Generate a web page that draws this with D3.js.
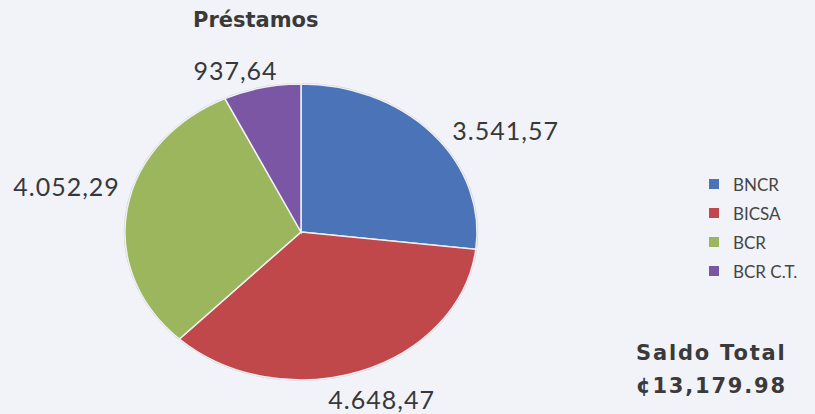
<!DOCTYPE html>
<html><head><meta charset="utf-8">
<script src="https://cdn.jsdelivr.net/npm/d3@7"></script>
<style>
html,body{margin:0;padding:0;background:#f1f3f8;}
svg{display:block;}
</style></head>
<body>
<svg id="chart" width="815" height="414"></svg>
<script>
const categories = ["BNCR", "BICSA", "BCR", "BCR C.T."];
const values = [3541.57, 4648.47, 4052.29, 937.64];
const valueLabels = ["3.541,57", "4.648,47", "4.052,29", "937,64"];
const colors = ["#4a73b8", "#c0474a", "#9cb65d", "#7a56a4"];
const title = "Préstamos";
const totalLines = ["Saldo Total", "¢13,179.98"];

const svg = d3.select("#chart");
const W = 815, H = 414;
svg.append("rect").attr("width", W).attr("height", H).attr("fill", "#f1f3f8");

const cx = 301, cy = 232, ry = 148, rx = 176;
const pie = d3.pie().sort(null).value(d => d)(values);
const arc = d3.arc().innerRadius(0).outerRadius(ry);

const g = svg.append("g").attr("transform", `translate(${cx},${cy}) scale(${rx/ry},1)`);
g.append("ellipse").attr("rx", ry + 1).attr("ry", ry + 1).attr("fill", "#c9c9d2");
g.selectAll("path").data(pie).join("path")
  .attr("d", arc)
  .attr("fill", (d, i) => colors[i])
  .attr("stroke", "#eef0f4")
  .attr("stroke-width", 1.5)
  .attr("vector-effect", "non-scaling-stroke");

// data labels, placed outside each slice via an outer arc, nudged like the original
const labelArc = d3.arc().innerRadius(ry * 1.32).outerRadius(ry * 1.32);
const labelNudge = [[31, 28], [2, -17], [-5, -15], [-14, 28]];
const lab = svg.append("g").attr("transform", `translate(${cx},${cy})`);
lab.selectAll("text").data(pie).join("text")
  .attr("x", (d, i) => labelArc.centroid(d)[0] * rx / ry + labelNudge[i][0])
  .attr("y", (d, i) => labelArc.centroid(d)[1] + labelNudge[i][1])
  .attr("text-anchor", "middle")
  .attr("dominant-baseline", "central")
  .attr("font-family", "Lato, 'Open Sans', sans-serif")
  .attr("font-size", 25)
  .attr("letter-spacing", 1)
  .attr("fill", "#383838")
  .text((d, i) => valueLabels[i]);

svg.append("text")
  .attr("x", 193).attr("y", 27)
  .attr("font-family", "'DejaVu Sans', Verdana, sans-serif")
  .attr("font-weight", "bold")
  .attr("font-size", 21)
  .attr("fill", "#3a3a3a")
  .text(title);

const leg = svg.append("g").attr("transform", "translate(709,184)");
const row = leg.selectAll("g").data(categories).join("g")
  .attr("transform", (d, i) => `translate(0,${i * 29})`);
row.append("rect").attr("x", 0).attr("y", -5).attr("width", 10).attr("height", 10)
  .attr("fill", (d, i) => colors[i]);
row.append("text").attr("x", 24).attr("y", 0)
  .attr("dominant-baseline", "central")
  .attr("font-family", "Lato, 'Open Sans', sans-serif")
  .attr("font-size", 17)
  .attr("fill", "#454545")
  .text(d => d);

svg.append("g").selectAll("text").data(totalLines).join("text")
  .attr("x", 636).attr("y", (d, i) => 360 + i * 33)
  .attr("font-family", "'DejaVu Sans', Verdana, sans-serif")
  .attr("font-weight", "bold")
  .attr("font-size", 21)
  .attr("letter-spacing", 1.8)
  .attr("fill", "#3a3a3a")
  .text(d => d);
</script>
</body></html>
